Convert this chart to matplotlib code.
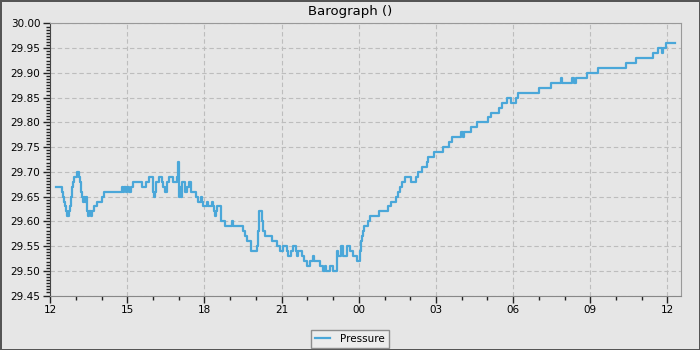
# Barographe : relevé de pression sur 24 h, tracé en escalier
import pandas as pd
import matplotlib
matplotlib.use("Agg")
import matplotlib.pyplot as plt
import matplotlib.dates as mdates
from matplotlib.ticker import MultipleLocator, AutoMinorLocator

# minutes écoulées depuis 12:00 et pression lue (inHg)
minutes = [
    14, 28, 31, 32, 35, 36, 39, 44, 46, 48, 49, 50, 53, 56, 62, 68, 70, 71, 74, 76,
    79, 81, 84, 85, 87, 89, 91, 95, 98, 102, 110, 122, 126, 167, 170, 173, 177, 180, 184, 189,
    194, 214, 223, 231, 241, 243, 245, 247, 255, 260, 264, 268, 273, 278, 287, 295, 298, 301, 304, 305,
    307, 315, 320, 324, 328, 340, 346, 351, 354, 356, 365, 369, 377, 379, 382, 385, 387, 389, 398, 408,
    424, 427, 449, 455, 459, 468, 482, 486, 487, 494, 497, 501, 517, 529, 536, 544, 552, 556, 562, 566,
    573, 575, 579, 587, 592, 599, 606, 612, 616, 630, 637, 641, 644, 653, 659, 669, 672, 679, 684, 692,
    700, 707, 715, 723, 725, 728, 730, 732, 742, 746, 767, 789, 795, 807, 812, 816, 820, 828, 841, 854,
    857, 867, 879, 882, 896, 916, 931, 937, 959, 964, 966, 982, 995, 1022, 1029, 1047, 1055, 1065, 1075, 1086,
    1091, 1141, 1169, 1191, 1195, 1218, 1222, 1227, 1252, 1279, 1344, 1367, 1406, 1417, 1427, 1429, 1437, 1458,
]
pression = [
    29.67, 29.66, 29.65, 29.64, 29.63, 29.62, 29.61, 29.62, 29.63, 29.64, 29.65, 29.67, 29.68, 29.69, 29.70, 29.69, 29.68, 29.66, 29.65, 29.64,
    29.65, 29.64, 29.65, 29.63, 29.62, 29.61, 29.62, 29.61, 29.62, 29.63, 29.64, 29.65, 29.66, 29.67, 29.66, 29.67, 29.66, 29.67, 29.66, 29.67,
    29.68, 29.67, 29.68, 29.69, 29.66, 29.65, 29.66, 29.68, 29.69, 29.68, 29.67, 29.66, 29.68, 29.69, 29.68, 29.69, 29.72, 29.65, 29.67, 29.65,
    29.68, 29.66, 29.67, 29.68, 29.66, 29.65, 29.64, 29.65, 29.64, 29.63, 29.64, 29.63, 29.64, 29.63, 29.62, 29.61, 29.62, 29.63, 29.60, 29.59,
    29.60, 29.59, 29.58, 29.57, 29.56, 29.54, 29.55, 29.58, 29.62, 29.60, 29.58, 29.57, 29.56, 29.55, 29.54, 29.55, 29.54, 29.53, 29.54, 29.55,
    29.54, 29.53, 29.54, 29.53, 29.52, 29.51, 29.52, 29.53, 29.52, 29.51, 29.50, 29.51, 29.50, 29.51, 29.50, 29.54, 29.53, 29.55, 29.53, 29.55,
    29.54, 29.53, 29.52, 29.54, 29.56, 29.57, 29.58, 29.59, 29.60, 29.61, 29.62, 29.63, 29.64, 29.65, 29.66, 29.67, 29.68, 29.69, 29.68, 29.69,
    29.70, 29.71, 29.72, 29.73, 29.74, 29.75, 29.76, 29.77, 29.78, 29.77, 29.78, 29.79, 29.80, 29.81, 29.82, 29.83, 29.84, 29.85, 29.84, 29.85,
    29.86, 29.87, 29.88, 29.89, 29.88, 29.89, 29.88, 29.89, 29.90, 29.91, 29.92, 29.93, 29.94, 29.95, 29.94, 29.95, 29.96, 29.96,
]

debut = pd.Timestamp("2023-01-01 12:00")
temps = debut + pd.to_timedelta(minutes, unit="min")

FOND = "#e6e6e6"
BLEU = "#4aa7d9"

fig = plt.figure(figsize=(7, 3.5), dpi=100, facecolor=FOND,
                 edgecolor="#555555", linewidth=2)
ax = fig.add_axes([0.0717, 0.1557, 0.9007, 0.7772])
ax.set_facecolor(FOND)

ax.plot(temps, pression, drawstyle="steps-post", color=BLEU,
        linewidth=1.6, label="Pressure")

ax.set_xlim(debut, debut + pd.Timedelta(minutes=1471))
ax.set_ylim(29.45, 30.00)

ax.yaxis.set_major_locator(MultipleLocator(0.05))
ax.yaxis.set_minor_locator(AutoMinorLocator(8))
ax.yaxis.set_major_formatter(plt.FormatStrFormatter("%.2f"))
ax.xaxis.set_major_locator(mdates.HourLocator(byhour=range(0, 24, 3)))
ax.xaxis.set_minor_locator(mdates.HourLocator())
ax.xaxis.set_major_formatter(mdates.DateFormatter("%H"))

ax.tick_params(which="major", length=5, width=1, color="#222222",
               labelsize=7.5, pad=2)
ax.tick_params(which="minor", length=3, width=1, color="#222222")
ax.grid(True, which="major", color="#bdbdbd", linestyle=(0, (4, 2.5)),
        linewidth=0.8)

ax.spines["left"].set_color("#444444")
ax.spines["bottom"].set_color("#888888")
for cote in ["top", "right"]:
    ax.spines[cote].set_color("#999999")

fig.text(0.5, 1 - 11 / 350, "Barograph ()", ha="center", va="center",
         fontsize=9.5)

leg = fig.legend(loc="lower center", bbox_to_anchor=(0.5, -0.004),
                 fontsize=7.5, frameon=True, fancybox=False,
                 handlelength=1.4, handletextpad=1.0, borderpad=0.4,
                 borderaxespad=0.3)
leg.get_frame().set_edgecolor("#777777")
leg.get_frame().set_facecolor("#eeeeee")
leg.get_frame().set_linewidth(1)

fig.savefig("out.png", dpi=100, facecolor=FOND, edgecolor=fig.get_edgecolor())
